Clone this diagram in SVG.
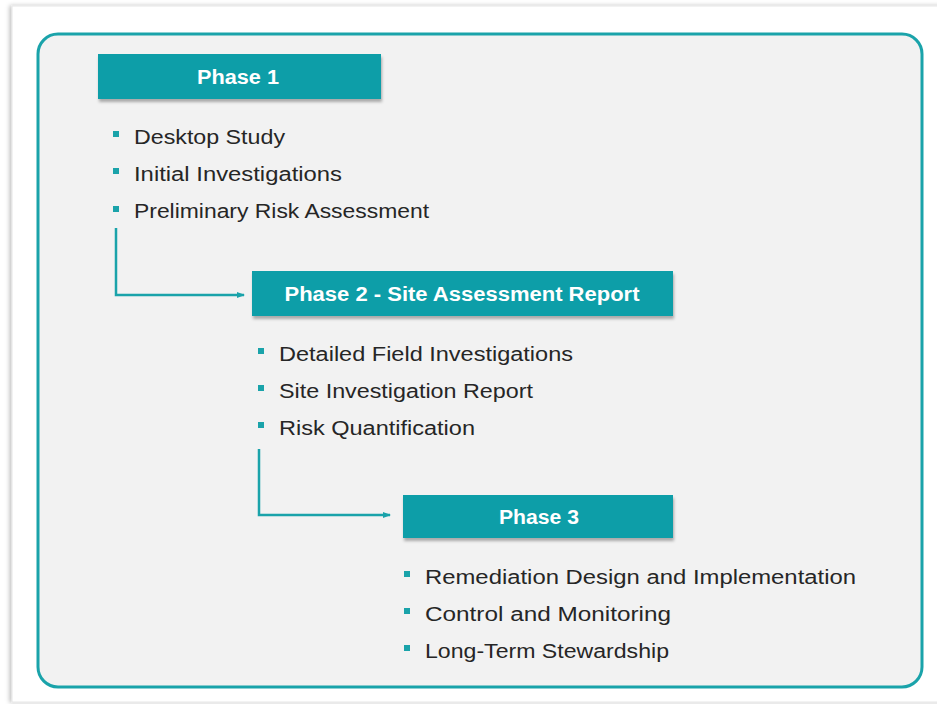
<svg xmlns="http://www.w3.org/2000/svg" width="937" height="704" viewBox="0 0 937 704">
<style>
.hdr{fill:#089ea8;filter:url(#sh)}
.ht{font-family:"Liberation Sans",Arial,sans-serif;font-weight:bold;font-size:20px;fill:#ffffff;text-anchor:middle}
.it{font-family:"Liberation Sans",Arial,sans-serif;font-size:20px;fill:#262626}
.bl{fill:#1aa3aa}
.con{fill:none;stroke:#1aa3aa;stroke-width:2.5;marker-end:url(#ar)}
</style>
<defs>
<filter id="sh" x="-5%" y="-20%" width="110%" height="150%">
<feDropShadow dx="1" dy="3" stdDeviation="1.5" flood-color="#000" flood-opacity="0.3"/>
</filter>
<filter id="ps" x="-5%" y="-5%" width="110%" height="110%">
<feDropShadow dx="-2" dy="0" stdDeviation="2" flood-color="#000" flood-opacity="0.25"/>
</filter>
<marker id="ar" markerWidth="8" markerHeight="8" refX="7" refY="4" orient="auto" markerUnits="userSpaceOnUse">
<path d="M0,1 L8,4 L0,7 Z" fill="#1aa3aa"/>
</marker>
</defs>
<rect x="0" y="0" width="937" height="704" fill="#ffffff"/>
<rect x="12" y="6" width="930" height="696" fill="#ffffff" stroke="#e6e6e6" stroke-width="1" filter="url(#ps)"/>
<rect x="38" y="34" width="884" height="653" rx="20" ry="20" fill="#f2f2f2" stroke="#1aa3aa" stroke-width="3"/>
<g id="connectors">
<path class="con" d="M116,228 V295 H244"/>
<path class="con" d="M259,449 V515 H390"/>
</g>
<g id="phase1">
<rect class="hdr" x="98" y="54" width="283" height="45"/>
<text class="ht" x="238" y="84" textLength="82" lengthAdjust="spacingAndGlyphs">Phase 1</text>
<rect class="bl" x="113" y="131" width="6" height="6"/>
<text class="it" x="134" y="144" textLength="151" lengthAdjust="spacingAndGlyphs">Desktop Study</text>
<rect class="bl" x="113" y="168" width="6" height="6"/>
<text class="it" x="134" y="181" textLength="208" lengthAdjust="spacingAndGlyphs">Initial Investigations</text>
<rect class="bl" x="113" y="206" width="6" height="6"/>
<text class="it" x="134" y="218" textLength="295" lengthAdjust="spacingAndGlyphs">Preliminary Risk Assessment</text>
</g>
<g id="phase2">
<rect class="hdr" x="252" y="271" width="421" height="45"/>
<text class="ht" x="462" y="301" textLength="355" lengthAdjust="spacingAndGlyphs">Phase 2 - Site Assessment Report</text>
<rect class="bl" x="258" y="348" width="6" height="6"/>
<text class="it" x="279" y="361" textLength="294" lengthAdjust="spacingAndGlyphs">Detailed Field Investigations</text>
<rect class="bl" x="258" y="385" width="6" height="6"/>
<text class="it" x="279" y="398" textLength="254" lengthAdjust="spacingAndGlyphs">Site Investigation Report</text>
<rect class="bl" x="258" y="422" width="6" height="6"/>
<text class="it" x="279" y="435" textLength="196" lengthAdjust="spacingAndGlyphs">Risk Quantification</text>
</g>
<g id="phase3">
<rect class="hdr" x="403" y="495" width="270" height="43"/>
<text class="ht" x="539" y="524" textLength="80" lengthAdjust="spacingAndGlyphs">Phase 3</text>
<rect class="bl" x="404" y="571" width="6" height="6"/>
<text class="it" x="425" y="584" textLength="431" lengthAdjust="spacingAndGlyphs">Remediation Design and Implementation</text>
<rect class="bl" x="404" y="608" width="6" height="6"/>
<text class="it" x="425" y="621" textLength="246" lengthAdjust="spacingAndGlyphs">Control and Monitoring</text>
<rect class="bl" x="404" y="645" width="6" height="6"/>
<text class="it" x="425" y="658" textLength="244" lengthAdjust="spacingAndGlyphs">Long-Term Stewardship</text>
</g>
</svg>
